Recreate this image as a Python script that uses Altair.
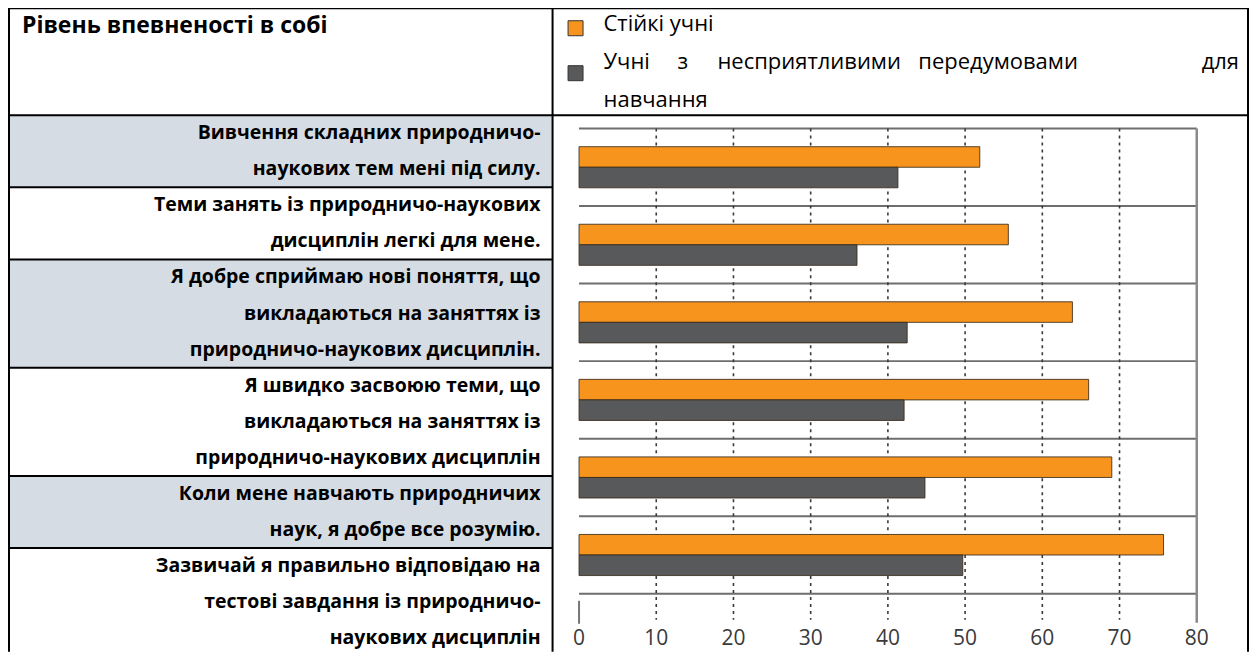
import altair as alt
import pandas as pd

# ---------------- data ----------------
header_title = "Рівень впевненості в собі"
label_lines = [
    ["Вивчення складних природничо-", "наукових тем мені під силу."],
    ["Теми занять із природничо-наукових", "дисциплін легкі для мене."],
    ["Я добре сприймаю нові поняття, що", "викладаються на заняттях  із", "природничо-наукових дисциплін."],
    ["Я швидко засвоюю теми, що", "викладаються на заняттях  із", "природничо-наукових дисциплін"],
    ["Коли мене навчають природничих", "наук, я добре все розумію."],
    ["Зазвичай я правильно відповідаю на", "тестові завдання із природничо-", "наукових дисциплін"],
]
series = ["Стійкі учні", "Учні з несприятливими передумовами для навчання"]
resilient = [51.9, 55.6, 63.9, 66.0, 69.0, 75.7]
disadvantaged = [41.3, 36.0, 42.5, 42.1, 44.8, 49.7]
ticks = [0, 10, 20, 30, 40, 50, 60, 70, 80]

# ---------------- layout / style ----------------
W, H = 1242, 644
COLORS = ["#F7941D", "#58595B"]
BOLD_FONT = "Open Sans"
REG_FONT = "Open Sans"
AXIS_FONT = "Open Sans"
LINE_H = 36.1
LEFT_TOP = 107
DIV_X = 545
X_RANGE = [571.5, 1189.7]
Y_RANGE = [120.3, 586.0]
SHADE = "#D6DCE4"
legend_word_x = [596, 670, 710, 911, 1232]  # word anchors of the justified legend line
legend_line_y = [15.5, 54, 92]
LEG_SIZE = 22

cats = [" ".join(l) for l in label_lines]

x_scale = alt.Scale(domain=[0, 80], range=X_RANGE, nice=False, zero=False)
left_y_scale = alt.Scale(domain=[0, 15], range=[LEFT_TOP, LEFT_TOP + 15 * LINE_H], nice=False, zero=False)

# rows of the left column
rows = []
start = 0
for i, ls in enumerate(label_lines):
    rows.append({"i": i, "y0": start, "y1": start + len(ls), "shade": i % 2 == 0})
    start += len(ls)
rows_df = pd.DataFrame(rows)

lines = []
start = 0
for i, ls in enumerate(label_lines):
    for j, t in enumerate(ls):
        lines.append({"t": t, "pos": start + j + 0.5})
    start += len(ls)
lines_df = pd.DataFrame(lines)

bars_df = pd.DataFrame(
    [{"cat": c, "series": series[0], "v": a} for c, a in zip(cats, resilient)]
    + [{"cat": c, "series": series[1], "v": b} for c, b in zip(cats, disadvantaged)]
)
ticks_df = pd.DataFrame({"t": ticks})
sep_df = pd.DataFrame({"k": list(range(len(cats) + 1)), "a": 0, "b": 80})

# ---------------- left column ----------------
shade = alt.Chart(rows_df).transform_filter("datum.shade").mark_rect(fill=SHADE).encode(
    x=alt.value(1), x2=alt.value(DIV_X),
    y=alt.Y("y0:Q", scale=left_y_scale, axis=None), y2="y1:Q",
)
row_rules = alt.Chart(rows_df).transform_filter("datum.i > 0").mark_rule(color="black", strokeWidth=2).encode(
    x=alt.value(0), x2=alt.value(DIV_X),
    y=alt.Y("y0:Q", scale=left_y_scale, axis=None),
)
row_text = alt.Chart(lines_df).mark_text(
    align="right", baseline="middle", font=BOLD_FONT, fontWeight="bold", fontSize=19.5, color="black"
).encode(
    x=alt.value(533),
    y=alt.Y("pos:Q", scale=left_y_scale, axis=None),
    text="t:N",
)

# header
title = alt.Chart(pd.DataFrame({"t": [header_title]})).mark_text(
    align="left", baseline="middle", font=BOLD_FONT, fontWeight="bold", fontSize=23, color="black"
).encode(x=alt.value(14), y=alt.value(18), text="t:N")

leg_sq = alt.Chart(pd.DataFrame({"series": series})).mark_square(size=225, opacity=1, stroke="#333", strokeWidth=1).encode(
    x=alt.value(568),
    y=alt.Y("series:N", scale=alt.Scale(domain=series, range=[20, 65], padding=0), axis=None),
    color=alt.Color("series:N", scale=alt.Scale(domain=series, range=COLORS), legend=None),
)
words = series[1].split()
leg_words = [{"t": series[0], "x": 596, "y": legend_line_y[0], "al": "left"}]
for k, wd in enumerate(words[:-1]):
    leg_words.append({"t": wd, "x": legend_word_x[k], "y": legend_line_y[1],
                      "al": "right" if k == len(words) - 2 else "left"})
leg_words.append({"t": words[-1], "x": 596, "y": legend_line_y[2], "al": "left"})
leg_df = pd.DataFrame(leg_words)
leg_text_l = alt.Chart(leg_df).transform_filter("datum.al == 'left'").mark_text(
    align="left", baseline="middle", font=REG_FONT, fontSize=LEG_SIZE, color="black"
).encode(x=alt.X("x:Q", scale=None, axis=None), y=alt.Y("y:Q", scale=None, axis=None), text="t:N")
leg_text_r = alt.Chart(leg_df).transform_filter("datum.al == 'right'").mark_text(
    align="right", baseline="middle", font=REG_FONT, fontSize=LEG_SIZE, color="black"
).encode(x=alt.X("x:Q", scale=None, axis=None), y=alt.Y("y:Q", scale=None, axis=None), text="t:N")

# ---------------- bar chart ----------------
seps = alt.Chart(sep_df).mark_rule(color="#6E6E6E", strokeWidth=2).encode(
    x=alt.X("a:Q", scale=x_scale, axis=None), x2="b:Q",
    y=alt.Y("k:Q", scale=alt.Scale(domain=[0, len(cats)], range=Y_RANGE, nice=False, zero=False), axis=None),
)
grid = alt.Chart(ticks_df).transform_filter("datum.t > 0 && datum.t < 80").mark_rule(
    color="#3a3a3a", strokeWidth=1.6, strokeDash=[3, 4]
).encode(x=alt.X("t:Q", scale=x_scale, axis=None), y=alt.value(Y_RANGE[0]), y2=alt.value(612))
frame_r = alt.Chart(ticks_df).transform_filter("datum.t == 80").mark_rule(color="#8A8A8A", strokeWidth=2.5).encode(
    x=alt.X("t:Q", scale=x_scale, axis=None), y=alt.value(Y_RANGE[0]), y2=alt.value(615))
tick0 = alt.Chart(ticks_df).transform_filter("datum.t == 0").mark_rule(color="#777", strokeWidth=2).encode(
    x=alt.X("t:Q", scale=x_scale, axis=None), y=alt.value(593), y2=alt.value(616))
tick_lab = alt.Chart(ticks_df).mark_text(
    align="center", baseline="alphabetic", font=AXIS_FONT, fontSize=21, color="#3a3a3a"
).encode(x=alt.X("t:Q", scale=x_scale, axis=None), y=alt.value(637.5), text="t:N")

bars = alt.Chart(bars_df).mark_bar(stroke="#3a2a1a", strokeWidth=1, strokeOpacity=0.85).encode(
    x=alt.X("v:Q", scale=x_scale, axis=None),
    y=alt.Y("cat:N", sort=cats, scale=alt.Scale(domain=cats, range=Y_RANGE, paddingInner=0.47, paddingOuter=0.235), axis=None),
    yOffset=alt.YOffset("series:N", sort=series, scale=alt.Scale(domain=series, paddingInner=0, paddingOuter=0)),
    color=alt.Color("series:N", scale=alt.Scale(domain=series, range=COLORS), legend=None),
)

# ---------------- table borders ----------------
def vline(x):
    return alt.Chart(pd.DataFrame({"a": [0]})).mark_rule(color="black", strokeWidth=2).encode(
        x=alt.value(x), y=alt.value(0), y2=alt.value(H))

def hline(y):
    return alt.Chart(pd.DataFrame({"a": [0]})).mark_rule(color="black", strokeWidth=2).encode(
        x=alt.value(0), x2=alt.value(W), y=alt.value(y))

chart = alt.layer(
    shade, row_rules, row_text, title, leg_sq, leg_text_l, leg_text_r,
    seps, grid, frame_r, tick0, bars, tick_lab,
    vline(1), vline(DIV_X), vline(W - 1), hline(0), hline(107),
).resolve_scale(
    x="independent", y="independent", color="independent", yOffset="independent"
).properties(
    width=W, height=H, autosize=alt.AutoSizeParams(type="none"), padding=0, background="white"
).configure_view(stroke=None)

chart.save("out.html", embed_options={"renderer": "svg", "actions": False})
